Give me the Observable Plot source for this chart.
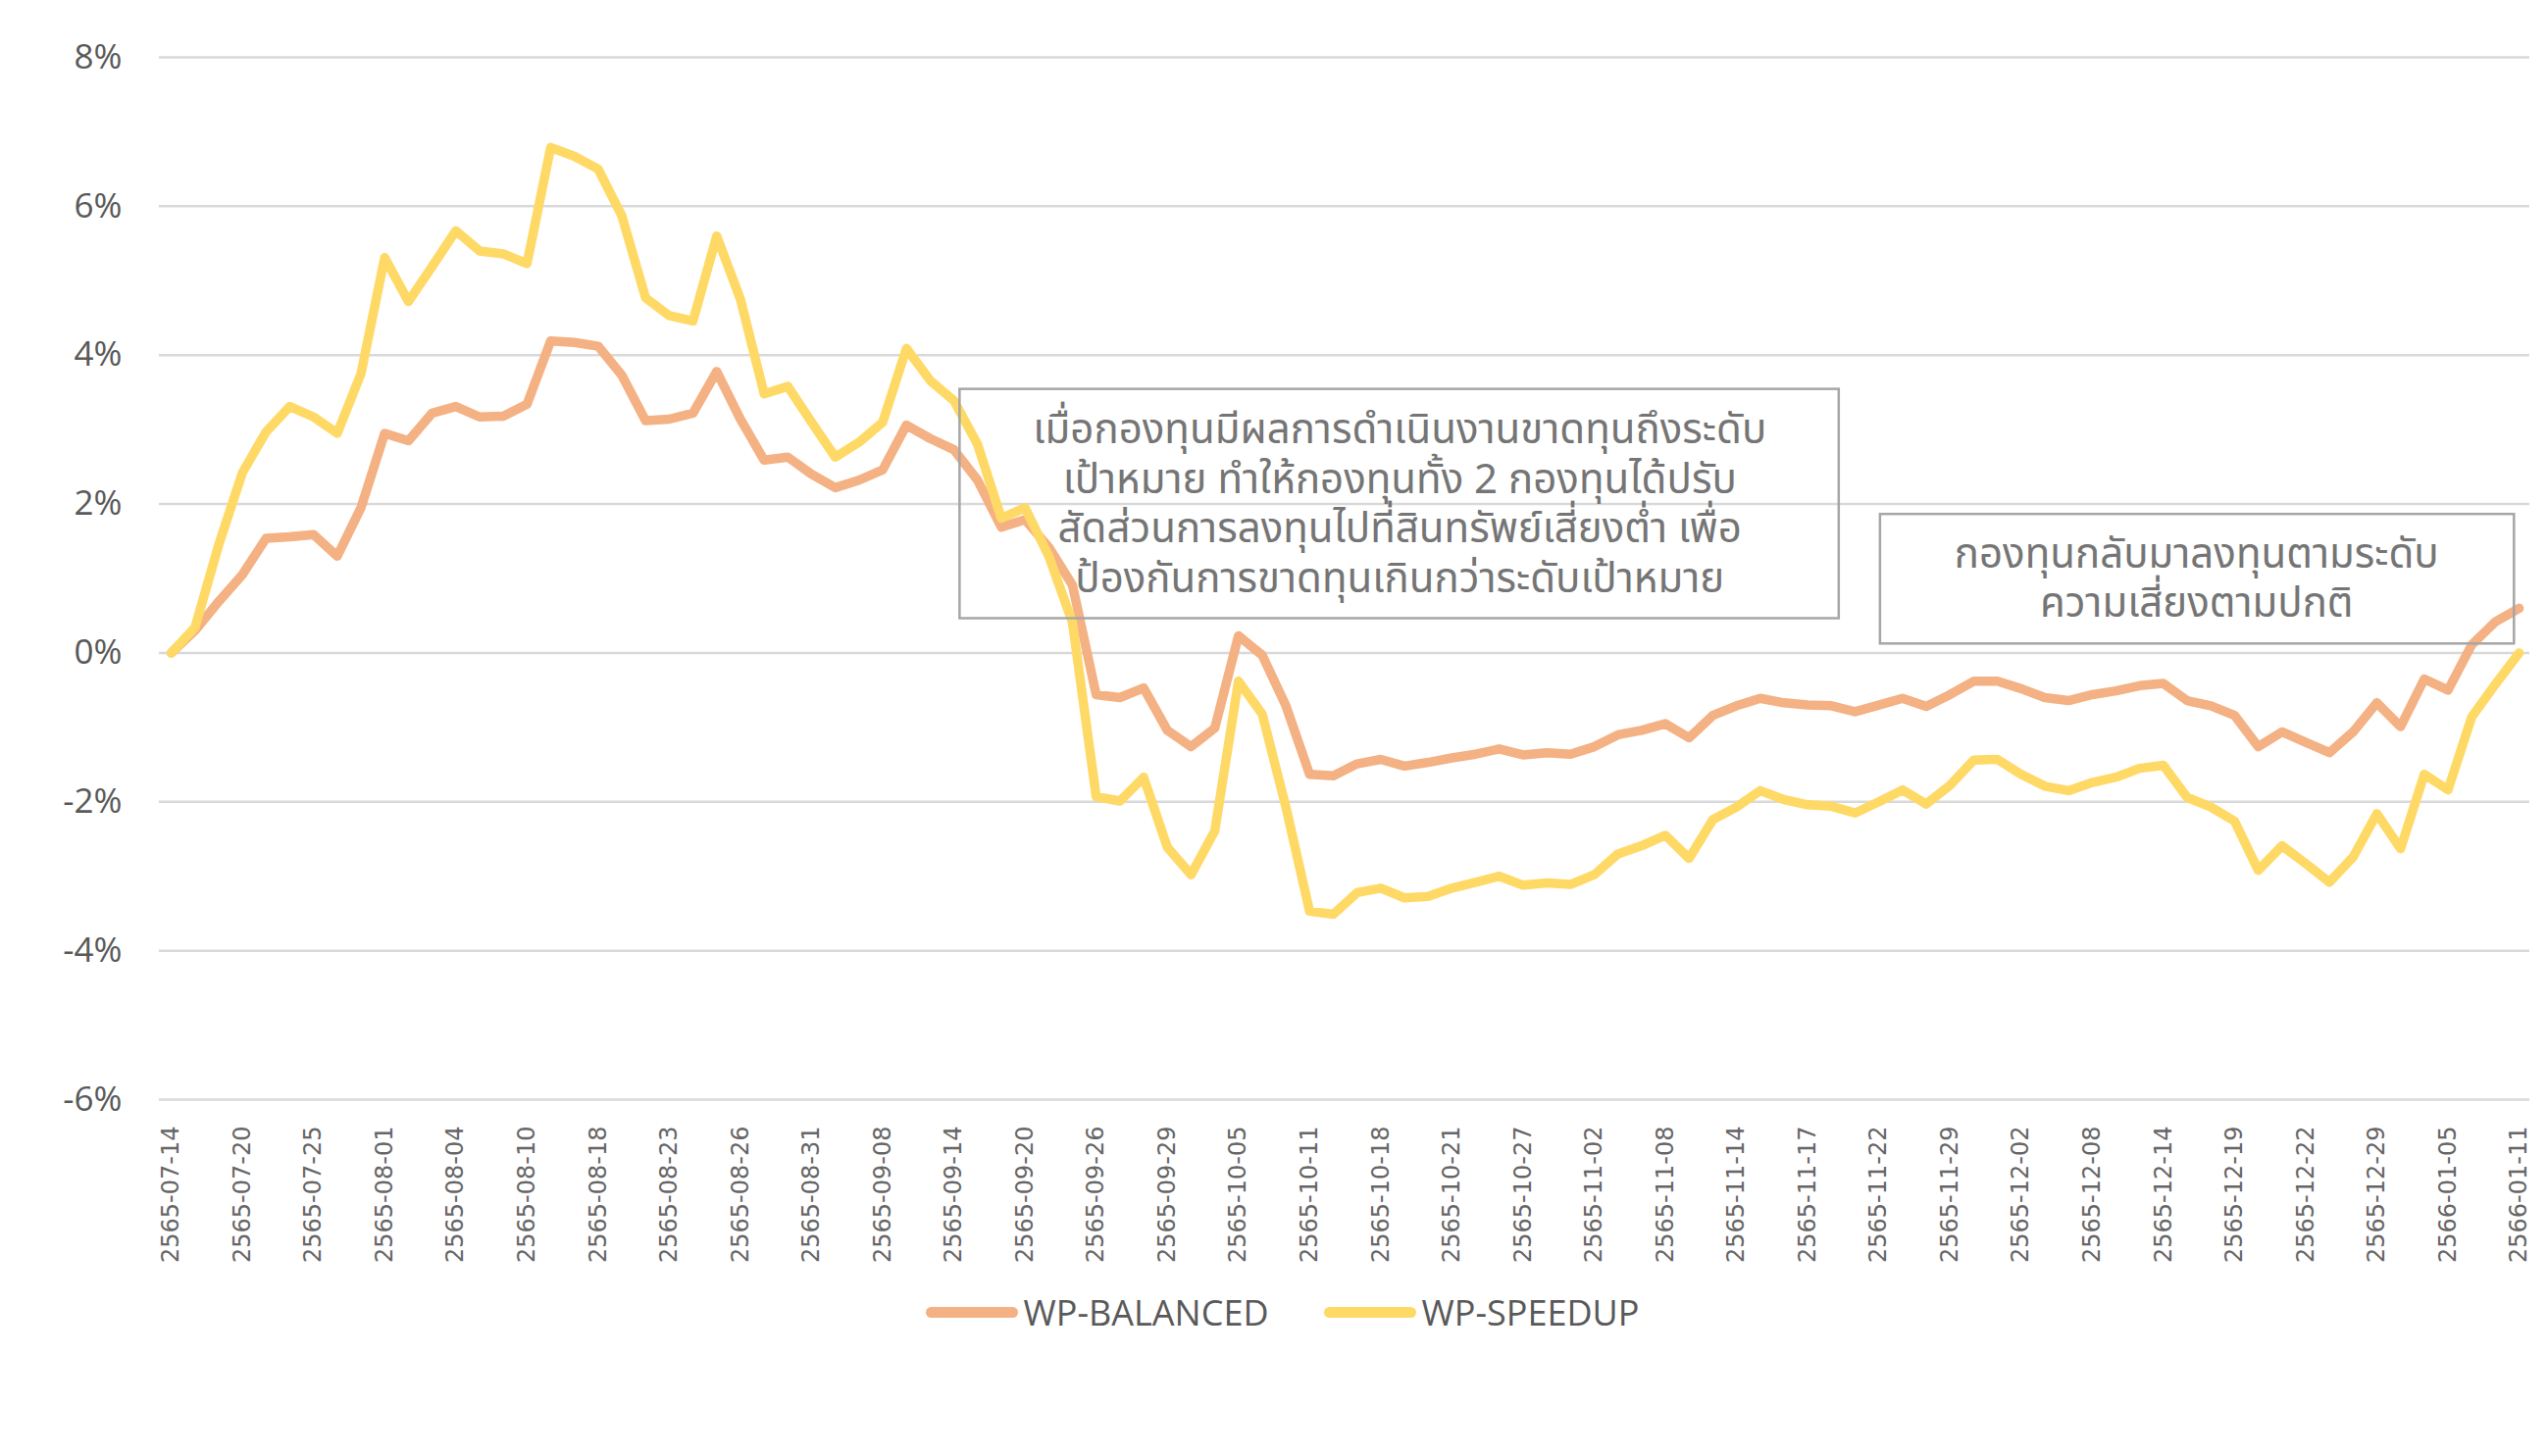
<!DOCTYPE html>
<html>
<head>
<meta charset="utf-8">
<script src="https://cdn.jsdelivr.net/npm/d3@7"></script>
<script src="https://cdn.jsdelivr.net/npm/@observablehq/plot@0.6"></script>
<style>
  html, body { margin: 0; padding: 0; background: #fff; }
  #chart svg { display: block; }
  #legend { display: flex; justify-content: center; align-items: center; height: 76px; padding-left: 18px;
            font-family: "Open Sans", sans-serif; font-size: 36px; color: #595959; }
  .item { display: flex; align-items: center; margin: 0 28px; }
  .sw { width: 94px; height: 11px; border-radius: 6px; margin-right: 6px; }
</style>
</head>
<body>
<div id="chart"></div>
<div id="legend"></div>
<script>
// x-axis tick labels (every 3rd trading day)
const tickLabels = ["2565-07-14","2565-07-20","2565-07-25","2565-08-01","2565-08-04","2565-08-10","2565-08-18","2565-08-23","2565-08-26","2565-08-31","2565-09-08","2565-09-14","2565-09-20","2565-09-26","2565-09-29","2565-10-05","2565-10-11","2565-10-18","2565-10-21","2565-10-27","2565-11-02","2565-11-08","2565-11-14","2565-11-17","2565-11-22","2565-11-29","2565-12-02","2565-12-08","2565-12-14","2565-12-19","2565-12-22","2565-12-29","2566-01-05","2566-01-11"];

// cumulative return (%) per trading day
const balanced = [0,0.30,0.69,1.05,1.54,1.56,1.59,1.30,1.95,2.95,2.85,3.22,3.31,3.17,3.18,3.34,4.19,4.17,4.12,3.73,3.12,3.14,3.22,3.78,3.14,2.59,2.63,2.40,2.22,2.32,2.46,3.06,2.88,2.73,2.32,1.69,1.79,1.42,0.91,-0.56,-0.60,-0.47,-1.04,-1.26,-1.01,0.23,-0.03,-0.71,-1.63,-1.65,-1.49,-1.43,-1.52,-1.47,-1.41,-1.36,-1.29,-1.37,-1.34,-1.36,-1.26,-1.10,-1.04,-0.95,-1.14,-0.84,-0.71,-0.61,-0.67,-0.70,-0.71,-0.79,-0.70,-0.61,-0.72,-0.56,-0.38,-0.38,-0.48,-0.60,-0.64,-0.56,-0.51,-0.44,-0.41,-0.64,-0.71,-0.84,-1.26,-1.06,-1.20,-1.34,-1.06,-0.67,-0.99,-0.35,-0.50,0.11,0.42,0.60];
const speedup = [0,0.34,1.45,2.42,2.97,3.31,3.17,2.95,3.75,5.31,4.72,5.19,5.67,5.40,5.36,5.23,6.79,6.67,6.50,5.87,4.77,4.53,4.46,5.60,4.75,3.48,3.58,3.10,2.63,2.83,3.10,4.09,3.66,3.39,2.80,1.81,1.95,1.30,0.41,-1.93,-1.99,-1.67,-2.61,-2.98,-2.39,-0.38,-0.82,-2.07,-3.47,-3.51,-3.22,-3.16,-3.29,-3.27,-3.16,-3.08,-3.00,-3.12,-3.09,-3.11,-2.98,-2.70,-2.59,-2.45,-2.76,-2.24,-2.07,-1.85,-1.97,-2.04,-2.06,-2.15,-2.00,-1.84,-2.03,-1.78,-1.44,-1.43,-1.63,-1.79,-1.85,-1.74,-1.67,-1.55,-1.51,-1.94,-2.07,-2.26,-2.92,-2.59,-2.83,-3.08,-2.74,-2.16,-2.63,-1.63,-1.84,-0.86,-0.42,0];

const seriesNames = ["WP-BALANCED", "WP-SPEEDUP"];
const seriesColors = ["#F4B183", "#FFD966"];
const yTicks = [-6, -4, -2, 0, 2, 4, 6, 8];

const note1 = "เมื่อกองทุนมีผลการดำเนินงานขาดทุนถึงระดับ\nเป้าหมาย ทำให้กองทุนทั้ง 2 กองทุนได้ปรับ\nสัดส่วนการลงทุนไปที่สินทรัพย์เสี่ยงต่ำ เพื่อ\nป้องกันการขาดทุนเกินกว่าระดับเป้าหมาย";
const note2 = "กองทุนกลับมาลงทุนตามระดับ\nความเสี่ยงตามปกติ";

const rows = [];
balanced.forEach((v, i) => rows.push({i, v, s: seriesNames[0]}));
speedup.forEach((v, i) => rows.push({i, v, s: seriesNames[1]}));
const xTicks = tickLabels.map((_, k) => k * 3);

const thai = "'Noto Sans Thai', 'Noto Sans', 'Open Sans', sans-serif";

const plot = Plot.plot({
  width: 2597,
  height: 1300,
  marginLeft: 162,
  marginRight: 18,
  marginTop: 58,
  marginBottom: 179,
  style: {background: "#fff", fontFamily: "'Open Sans', sans-serif"},
  x: {domain: [-0.5, 99.45]},
  y: {domain: [-6, 8]},
  color: {domain: seriesNames, range: seriesColors},
  marks: [
    Plot.gridY(yTicks, {stroke: "#d9d9d9", strokeOpacity: 1, strokeWidth: 2.5}),
    Plot.axisY(yTicks, {tickSize: 0, tickPadding: 38, tickFormat: d => d + "%", fontSize: 35, fill: "#595959", label: null}),
    Plot.axisX(xTicks, {tickSize: 0, tickPadding: 27, tickRotate: -90, tickFormat: i => tickLabels[i / 3],
      fontSize: 24, fontFamily: "'DejaVu Sans', sans-serif", fill: "#666666", label: null}),
    Plot.line(rows, {x: "i", y: "v", z: "s", stroke: "s", strokeWidth: 9.5, strokeLinejoin: "round", strokeLinecap: "round"}),
    Plot.rect([0], {x1: 33.26, x2: 70.33, y1: 0.46, y2: 3.54, fill: "none", stroke: "#a6a6a6", strokeWidth: 2.5}),
    Plot.rect([0], {x1: 72.07, x2: 98.8, y1: 0.12, y2: 1.86, fill: "none", stroke: "#a6a6a6", strokeWidth: 2.5}),
    Plot.text([note1], {x: 51.8, y: 2.03, text: d => d, fontSize: 42, lineHeight: 1.2, fill: "#757575", fontFamily: thai}),
    Plot.text([note2], {x: 85.4, y: 1.03, text: d => d, fontSize: 42, lineHeight: 1.2, fill: "#757575", fontFamily: thai})
  ]
});
document.getElementById("chart").appendChild(plot);

const lg = document.getElementById("legend");
seriesNames.forEach((n, k) => {
  const it = document.createElement("div");
  it.className = "item";
  const sw = document.createElement("div");
  sw.className = "sw";
  sw.style.background = seriesColors[k];
  const t = document.createElement("span");
  t.textContent = n;
  it.appendChild(sw);
  it.appendChild(t);
  lg.appendChild(it);
});
</script>
</body>
</html>
